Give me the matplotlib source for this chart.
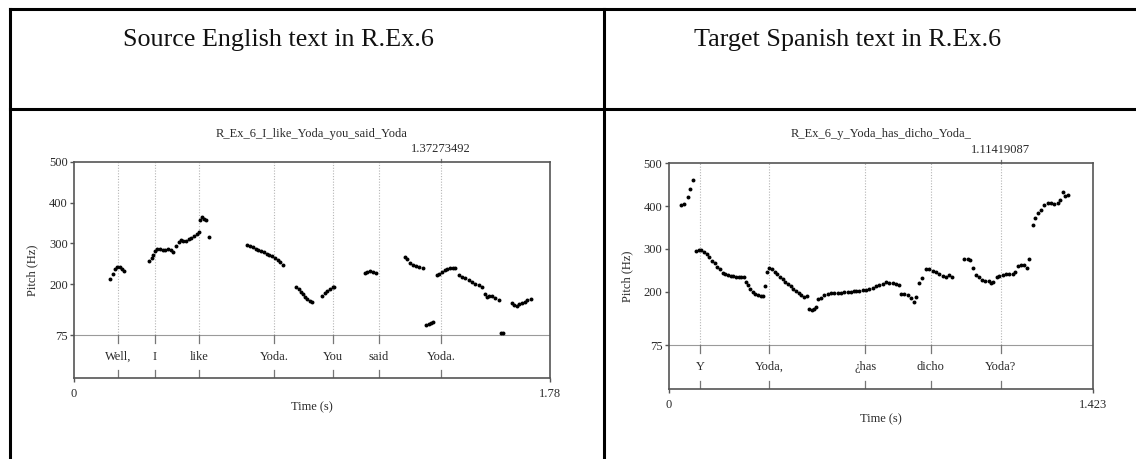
import matplotlib
matplotlib.use("Agg")
import matplotlib.pyplot as plt
from matplotlib.lines import Line2D

plt.rcParams['font.family'] = ['Liberation Serif', 'DejaVu Serif']

# ---------------- data ----------------
headers = ["Source English text in R.Ex.6", "Target Spanish text in R.Ex.6"]

en_title = "R_Ex_6_I_like_Yoda_you_said_Yoda"
en_duration = 1.78
en_cursor = 1.37273492
en_words = ["Well,", "I", "like", "Yoda.", "You", "said", "Yoda."]
en_word_times = [0.166, 0.303, 0.469, 0.749, 0.968, 1.140, 1.37273492]
en_times = [
    0.135, 0.145, 0.154, 0.162, 0.172, 0.180, 0.187,
    0.282, 0.291, 0.297, 0.304, 0.312, 0.322, 0.332, 0.341, 0.352, 0.362,
    0.371, 0.381, 0.392, 0.399, 0.409, 0.419, 0.429, 0.439, 0.449, 0.459, 0.466,
    0.471, 0.479, 0.486, 0.494, 0.504,
    0.648, 0.658, 0.669, 0.679, 0.689, 0.700, 0.710, 0.720, 0.731, 0.741,
    0.751, 0.762, 0.772, 0.783,
    0.830, 0.840, 0.848, 0.855, 0.864, 0.872, 0.883, 0.890,
    0.927, 0.938, 0.947, 0.957, 0.967, 0.972,
    1.088, 1.097, 1.107, 1.117, 1.129,
    1.237, 1.246, 1.257, 1.267, 1.279, 1.291, 1.304,
    1.316, 1.326, 1.334, 1.341,
    1.356, 1.366, 1.376, 1.386, 1.396, 1.406, 1.416, 1.426,
    1.439, 1.451, 1.463, 1.476, 1.488, 1.501, 1.513, 1.526,
    1.536, 1.543, 1.553, 1.563, 1.576, 1.588,
    1.596, 1.606,
    1.637, 1.647, 1.656, 1.665, 1.675, 1.685, 1.695, 1.708,
]
en_hz = [
    213, 225, 237, 243, 241, 238, 233,
    258, 265, 272, 282, 286, 286, 284, 284, 286, 283,
    280, 294, 304, 308, 307, 307, 310, 313, 317, 322, 327,
    357, 364, 361, 357, 315,
    296, 293, 290, 287, 284, 281, 278, 275, 272, 268,
    264, 260, 255, 247,
    192, 187, 180, 176, 169, 164, 159, 156,
    172, 177, 182, 188, 192, 194,
    228, 230, 231, 230, 228,
    267, 261, 253, 247, 244, 243, 240,
    100, 101, 104, 106,
    222, 226, 230, 235, 238, 240, 240, 240,
    222, 218, 214, 210, 205, 201, 197, 192,
    176, 169, 172, 171, 165, 161,
    81, 80,
    153, 149, 146, 150, 153, 157, 160, 164,
]

es_title = "R_Ex_6_y_Yoda_has_dicho_Yoda_"
es_duration = 1.423
es_cursor = 1.11419087
es_words = ["Y", "Yoda,", "\u00bfhas", "dicho", "Yoda?"]
es_word_times = [0.106, 0.338, 0.660, 0.879, 1.11419087]
es_times = [
    0.041, 0.052, 0.064, 0.073, 0.083,
    0.092, 0.101, 0.109, 0.119, 0.128, 0.136, 0.145, 0.154, 0.163, 0.172,
    0.181, 0.190, 0.199, 0.208, 0.217, 0.226, 0.235, 0.244, 0.253, 0.259,
    0.266, 0.273, 0.282, 0.291, 0.300, 0.309, 0.316,
    0.323,
    0.330, 0.338, 0.347, 0.356, 0.365, 0.374, 0.383, 0.391, 0.400, 0.409,
    0.418, 0.427, 0.436, 0.445, 0.454, 0.463,
    0.472, 0.480, 0.489, 0.494,
    0.502, 0.511, 0.522, 0.534, 0.545, 0.556, 0.567, 0.578, 0.589, 0.601,
    0.612, 0.623, 0.629, 0.640, 0.651, 0.662, 0.673, 0.685, 0.696, 0.707,
    0.718, 0.729, 0.740, 0.752, 0.763, 0.774,
    0.780, 0.791, 0.802, 0.813, 0.822, 0.830,
    0.841, 0.850, 0.864, 0.875, 0.886, 0.897, 0.908, 0.920, 0.931, 0.940, 0.951,
    0.992, 1.004, 1.011, 1.020, 1.031, 1.042, 1.052, 1.063, 1.074, 1.081,
    1.089, 1.101, 1.110, 1.121, 1.132, 1.143, 1.155, 1.163, 1.171, 1.182,
    1.194, 1.203, 1.210,
    1.222, 1.230, 1.239, 1.250, 1.261, 1.272, 1.283, 1.294, 1.306, 1.313,
    1.322, 1.331, 1.340,
]
es_hz = [
    402, 405, 422, 441, 461,
    295, 297, 297, 293, 287, 280, 272, 266, 258, 252,
    244, 241, 238, 237, 236, 235, 234, 234, 233, 223,
    215, 207, 199, 195, 193, 190, 189,
    213,
    246, 254, 252, 246, 241, 234, 229, 223, 217, 212,
    206, 201, 197, 192, 187, 190,
    160, 158, 160, 164,
    182, 186, 191, 195, 197, 197, 197, 197, 198, 198,
    199, 201, 201, 202, 203, 204, 205, 208, 212, 215,
    218, 222, 221, 219, 217, 215,
    195, 194, 191, 184, 176, 187,
    219, 232, 252, 252, 248, 245, 241, 237, 234, 238, 234,
    277, 277, 273, 254, 238, 233, 227, 225, 225, 219,
    222, 234, 237, 238, 240, 241, 242, 246, 259, 262,
    262, 256, 277,
    355, 373, 383, 391, 402, 408, 406, 405, 408, 414,
    433, 423, 425,
]

pitch_ticks = [75, 200, 300, 400, 500]

# ---------------- figure ----------------
W, H, DPI = 1136, 459, 100
fig = plt.figure(figsize=(W / DPI, H / DPI), dpi=DPI)
fig.patch.set_facecolor("white")


def fx(x):
    return x / W


def fy(y):
    return 1 - y / H


# table grid
grid_kw = dict(color="black", lw=2.2, solid_capstyle="projecting")
fig.add_artist(Line2D([fx(9.5), fx(W + 5)], [fy(8.5), fy(8.5)], **grid_kw))
fig.add_artist(Line2D([fx(9.5), fx(W + 5)], [fy(109), fy(109)], **grid_kw))
fig.add_artist(Line2D([fx(9.5), fx(9.5)], [fy(8.5), fy(H + 5)], **grid_kw))
fig.add_artist(Line2D([fx(604), fx(604)], [fy(8.5), fy(H + 5)], **grid_kw))

fig.text(fx(278), fy(46), headers[0], ha="center", va="baseline",
         fontsize=18.8, color="#111111")
fig.text(fx(848), fy(46), headers[1], ha="center", va="baseline",
         fontsize=18.8, color="#111111")

FRAME = "#555555"
TXT = "#2a2a2a"


def pitch_panel(left, top, right, y75, bottom, title, duration, cursor,
                words, word_times, times, hz, title_y, xlab_y, ylab_x):
    ax = fig.add_axes([fx(left), fy(bottom), (right - left) / W, (bottom - top) / H])
    hz_per_px = (500 - 75) / (y75 - top)
    ymin = 75 - (bottom - y75) * hz_per_px
    ax.set_xlim(0, duration)
    ax.set_ylim(ymin, 500)
    for s in ax.spines.values():
        s.set_color(FRAME)
        s.set_linewidth(1.2)
    ax.axhline(75, color="#9a9a9a", lw=0.8, zorder=1)

    # interval marks: dotted in the pitch area, short ticks in the text tier
    tick_hz = 8 * hz_per_px
    for t in word_times:
        ax.plot([t, t], [75, 500], ls=(0, (1, 1.5)), color="#b5b5b5", lw=0.8, zorder=1)
        ax.plot([t, t], [75, 75 - tick_hz], color="#777777", lw=0.9, zorder=1)
        ax.plot([t, t], [ymin, ymin + tick_hz], color="#777777", lw=0.9, zorder=1)
    tier_mid = (75 + ymin) / 2
    for w, t in zip(words, word_times):
        ax.text(t, tier_mid, w, ha="center", va="center", fontsize=9, color=TXT)

    ax.scatter(times, hz, s=8, color="black", linewidths=0, zorder=3)

    ax.set_yticks(pitch_ticks)
    ax.set_yticklabels([str(v) for v in pitch_ticks])
    ax.set_xticks([0, duration])
    ax.set_xticklabels(["0", f"{duration:g}"])
    ax.tick_params(axis="both", direction="out", length=3, width=1,
                   color=FRAME, labelsize=9, labelcolor=TXT, pad=1.5)
    ax.tick_params(axis="x", pad=4)

    # cursor value above the frame
    ax.plot([cursor, cursor], [500, 500 + 3 * hz_per_px], color="#777777",
            lw=0.9, clip_on=False)
    ax.annotate(f"{cursor:.8f}", xy=(cursor, 1), xycoords=("data", "axes fraction"),
                xytext=(0, 9.5), textcoords="offset points", ha="center",
                va="center", fontsize=9, color=TXT)

    cx = (left + right) / 2
    fig.text(fx(cx), fy(title_y), title, ha="center", va="center",
             fontsize=9, color=TXT)
    fig.text(fx(cx), fy(xlab_y), "Time (s)", ha="center", va="center",
             fontsize=9, color=TXT)
    fig.text(fx(ylab_x), fy((top + bottom) / 2), "Pitch (Hz)", ha="center",
             va="center", rotation=90, fontsize=9, color=TXT)
    return ax


pitch_panel(74, 162, 550, 335, 378, en_title, en_duration, en_cursor,
            en_words, en_word_times, en_times, en_hz,
            title_y=134, xlab_y=407, ylab_x=32)
pitch_panel(668.7, 163.3, 1092.7, 345, 389.3, es_title, es_duration, es_cursor,
            es_words, es_word_times, es_times, es_hz,
            title_y=134, xlab_y=419, ylab_x=627.7)

fig.savefig("out.png", dpi=DPI, facecolor="white")
